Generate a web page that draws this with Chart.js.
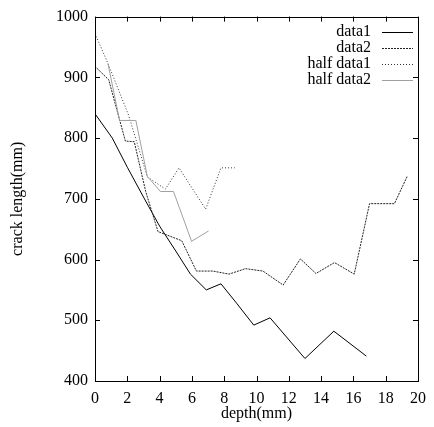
<!DOCTYPE html>
<html><head><meta charset="utf-8">
<script src="https://cdn.jsdelivr.net/npm/chart.js@4/dist/chart.umd.min.js"></script>
<style>html,body{margin:0;padding:0;background:#fff;}canvas{display:block;}</style>
</head><body>
<canvas id="c" width="434" height="427"></canvas>
<script>
const seriesNames = ["data1", "data2", "half data1", "half data2"];
const data1X = [0, 1.07, 2, 3, 4, 5, 5.91, 6.89, 7.8, 8.8, 9.83, 10.84, 13.0, 14.79, 16.8];
const data1Y = [840, 800, 752, 703, 655, 614, 576, 550, 560, 527, 492, 504, 437, 482, 441];
const data2X = [0, 0.85, 1.88, 2.43, 3.14, 3.9, 5.37, 6.28, 7.3, 8.3, 9.32, 10.4, 11.65, 12.72, 13.68, 14.83, 16.05, 17.0, 18.54, 19.35];
const data2Y = [918, 896, 795, 794, 712, 646, 631, 581, 581, 576, 585, 581, 558, 601, 577, 595, 576, 692, 692, 738];
const half1X = [0, 0.8, 2.09, 3.24, 4.36, 5.2, 6.85, 7.8, 8.65];
const half1Y = [972, 923, 837, 736, 716, 751, 683, 751, 751];
const half2X = [0.8, 1.52, 2.53, 3.24, 4.05, 4.86, 5.98, 7.03];
const half2Y = [923, 829, 829, 737, 712, 712, 630, 647];
const xTicks = [0, 2, 4, 6, 8, 10, 12, 14, 16, 18, 20];
const yTicks = [400, 500, 600, 700, 800, 900, 1000];

const FONT = "'Liberation Serif', 'DejaVu Serif', serif";
const FS = 16;
const pts = (xs, ys) => xs.map((x, i) => ({x: x, y: ys[i]}));
const styles = [
  {color: '#000000', dash: []},
  {color: '#222222', dash: [2, 1]},
  {color: '#333333', dash: [1, 2]},
  {color: '#a0a0a0', dash: []}
];
const seriesData = [pts(data1X, data1Y), pts(data2X, data2Y), pts(half1X, half1Y), pts(half2X, half2Y)];

const framePlugin = {
  id: 'frame',
  afterDraw(chart) {
    const ctx = chart.ctx, a = chart.chartArea;
    const xs = chart.scales.x, ys = chart.scales.y;
    ctx.save();
    ctx.strokeStyle = '#000';
    ctx.lineWidth = 1;
    ctx.strokeRect(Math.round(a.left) + 0.5, Math.round(a.top) + 0.5, Math.round(a.right - a.left), Math.round(a.bottom - a.top));
    ctx.beginPath();
    const L = 5;
    xTicks.forEach(v => {
      const px = Math.round(xs.getPixelForValue(v)) + 0.5;
      ctx.moveTo(px, a.bottom); ctx.lineTo(px, a.bottom - L);
      ctx.moveTo(px, a.top); ctx.lineTo(px, a.top + L);
    });
    yTicks.forEach(v => {
      const py = Math.round(ys.getPixelForValue(v)) + 0.5;
      ctx.moveTo(a.left, py); ctx.lineTo(a.left + L, py);
      ctx.moveTo(a.right, py); ctx.lineTo(a.right - L, py);
    });
    ctx.stroke();
    // legend
    ctx.font = FS + 'px ' + FONT;
    ctx.textAlign = 'right';
    ctx.textBaseline = 'middle';
    ctx.fillStyle = '#000';
    const rowY = [32, 48, 64, 80];
    seriesNames.forEach((n, i) => {
      ctx.fillText(n, 371, rowY[i]);
      ctx.beginPath();
      ctx.strokeStyle = styles[i].color;
      ctx.setLineDash(styles[i].dash);
      ctx.moveTo(382, rowY[i] + 0.5); ctx.lineTo(413, rowY[i] + 0.5);
      ctx.stroke();
      ctx.setLineDash([]);
    });
    ctx.restore();
  }
};

new Chart(document.getElementById('c'), {
  type: 'line',
  data: {
    datasets: seriesData.map((d, i) => ({
      label: seriesNames[i],
      data: d,
      borderColor: styles[i].color,
      borderDash: styles[i].dash,
      borderWidth: 1,
      pointRadius: 0,
      tension: 0,
      fill: false,
      order: 3 - i
    }))
  },
  options: {
    responsive: false,
    animation: false,
    events: [],
    layout: {padding: {left: 0, top: 11, right: 10, bottom: 0}},
    plugins: {legend: {display: false}, tooltip: {enabled: false}},
    scales: {
      x: {
        type: 'linear', min: 0, max: 20,
        afterBuildTicks: s => { s.ticks = xTicks.map(v => ({value: v})); },
        afterFit: s => { s.height = 46; },
        grid: {display: false, drawTicks: false},
        border: {display: false},
        ticks: {color: '#000', font: {family: FONT, size: FS}, padding: 8, maxRotation: 0, autoSkip: false, callback: v => String(v)},
        title: {display: true, text: 'depth(mm)', color: '#000', font: {family: FONT, size: FS}, padding: {top: 0, bottom: 4}}
      },
      y: {
        type: 'linear', min: 400, max: 1000,
        afterBuildTicks: s => { s.ticks = yTicks.map(v => ({value: v})); },
        afterFit: s => { s.width = 95; },
        grid: {display: false, drawTicks: false},
        border: {display: false},
        ticks: {color: '#000', font: {family: FONT, size: FS}, padding: 7, autoSkip: false, callback: v => String(v)},
        title: {display: true, text: 'crack length(mm)', color: '#000', font: {family: FONT, size: FS}, padding: {top: 8, bottom: 0}}
      }
    }
  },
  plugins: [framePlugin]
});
</script>
</body></html>
